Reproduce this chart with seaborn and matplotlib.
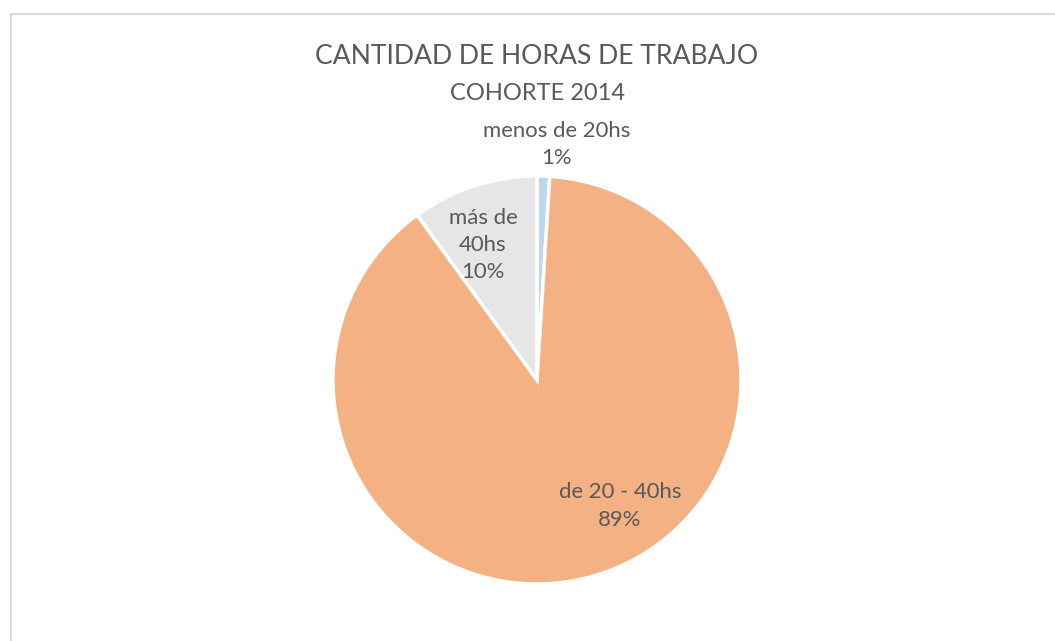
import matplotlib
matplotlib.use("Agg")
import matplotlib.pyplot as plt
from matplotlib.patches import Rectangle
import seaborn as sns

# Work-hours distribution, cohort 2014
categories = ["menos de 20hs", "de 20 - 40hs", "más de\n40hs"]
shares = [1, 89, 10]
slice_colors = ["#BDD7EE", "#F4B183", "#E7E6E6"]
title = "CANTIDAD DE HORAS DE TRABAJO"
subtitle = "COHORTE 2014"

sns.set_theme(style="white")
plt.rcParams["font.family"] = ["Lato", "DejaVu Sans"]
palette = sns.color_palette(slice_colors)
text_color = "#595959"

W, H, DPI = 1055, 641, 100
fig = plt.figure(figsize=(W / DPI, H / DPI), dpi=DPI)
fig.patch.set_facecolor("white")

# chart-area frame (top and left edges visible)
fig.add_artist(Rectangle((10.5 / W, -0.1), 1.2, (H - 14) / H + 0.1,
                         transform=fig.transFigure, fill=False,
                         edgecolor="#D9D9D9", linewidth=1.5))

cx, cy, r = 537, 380, 204
ax = fig.add_axes([(cx - r) / W, (H - cy - r) / H, 2 * r / W, 2 * r / H])
wedges, _ = ax.pie(shares, colors=palette, startangle=90, counterclock=False,
                   radius=1, wedgeprops=dict(edgecolor="white", linewidth=2.5))
ax.set_xlim(-1, 1)
ax.set_ylim(-1, 1)
ax.set_aspect("equal")
ax.axis("off")

label_xy = [(0.098, 1.154), (0.407, -0.618), (-0.265, 0.662)]
for cat, val, (lx, ly) in zip(categories, shares, label_xy):
    ax.text(lx, ly, f"{cat}\n{val}%", ha="center", va="center",
            fontsize=15.9, color=text_color, linespacing=1.45, clip_on=False)

fig.text(537 / W, 1 - 57 / H, title, ha="center", va="center",
         fontsize=19.1, color=text_color)
fig.text(537 / W, 1 - 93 / H, subtitle, ha="center", va="center",
         fontsize=17, color=text_color)

fig.savefig("out.png", dpi=DPI, facecolor="white")
